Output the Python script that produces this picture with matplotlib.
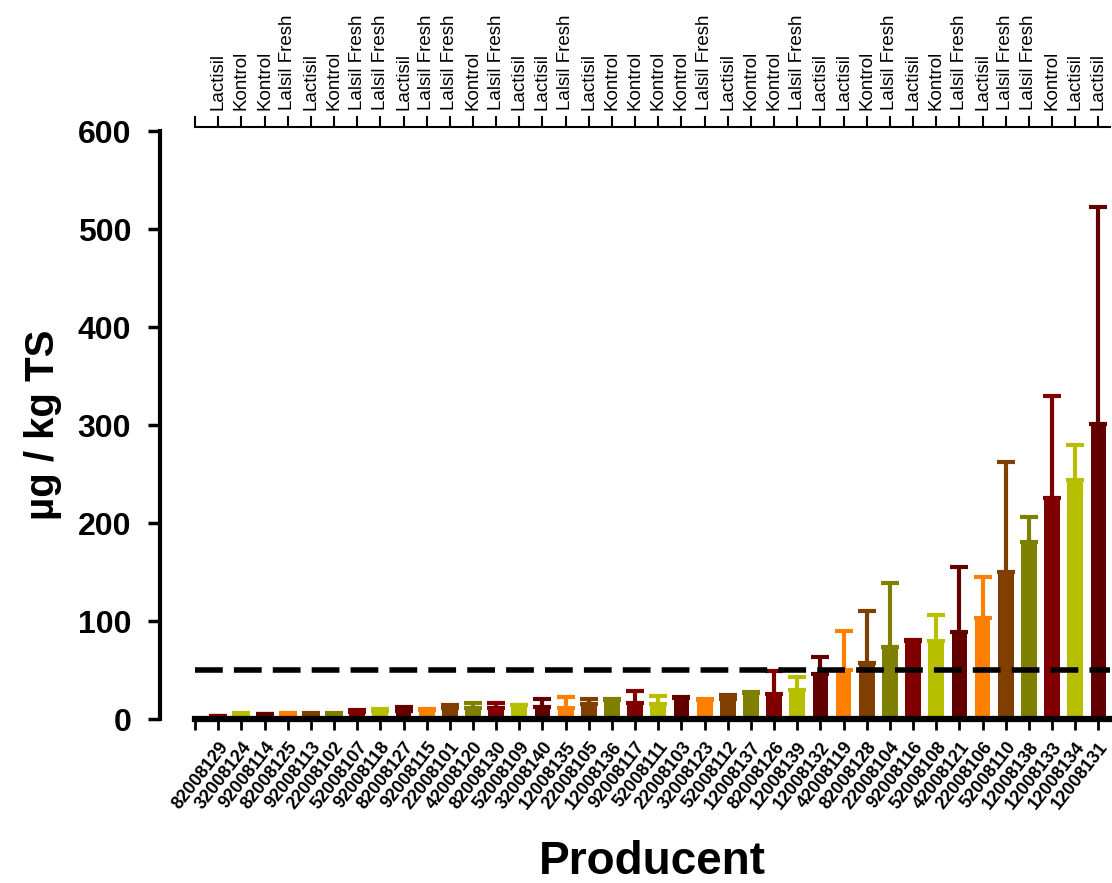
import matplotlib.pyplot as plt
import numpy as np

# producers sorted by mean concentration
producers = ['82008129', '32008124', '92008114', '82008125', '92008113', '22008102',
             '52008107', '92008118', '82008127', '92008115', '22008101', '42008120',
             '82008130', '52008109', '32008140', '12008135', '22008105', '12008136',
             '92008117', '52008111', '22008103', '32008123', '52008112', '12008137',
             '82008126', '12008139', '12008132', '42008119', '82008128', '22008104',
             '92008116', '52008108', '42008121', '22008106', '52008110', '12008138',
             '12008133', '12008134', '12008131']
treatments = ['Lactisil', 'Kontrol', 'Kontrol', 'Lalsil Fresh', 'Lactisil', 'Kontrol',
              'Lalsil Fresh', 'Lalsil Fresh', 'Lactisil', 'Lalsil Fresh', 'Lalsil Fresh',
              'Kontrol', 'Lalsil Fresh', 'Lactisil', 'Lactisil', 'Lalsil Fresh', 'Lactisil',
              'Kontrol', 'Kontrol', 'Kontrol', 'Kontrol', 'Lalsil Fresh', 'Lactisil',
              'Kontrol', 'Kontrol', 'Lalsil Fresh', 'Lactisil', 'Lactisil', 'Kontrol',
              'Lalsil Fresh', 'Lactisil', 'Kontrol', 'Lalsil Fresh', 'Lactisil',
              'Lalsil Fresh', 'Lalsil Fresh', 'Kontrol', 'Lactisil', 'Lactisil']
means = [3, 5, 5, 5, 5, 5, 7, 8, 8, 9, 11, 11, 11, 14, 12, 11, 15, 19, 16, 15,
         21, 19, 20, 27, 26, 30, 46, 50, 57, 73, 80, 80, 89, 103, 150, 181, 226, 244, 301]
err_up = [0.5, 1, 0.5, 1, 1, 1, 2, 2, 4, 1, 3, 5, 5, 0.5, 8, 11, 5, 1, 13, 8,
          1, 1, 5, 1, 23, 13, 17, 40, 53, 66, 1, 26, 66, 42, 112, 25, 104, 36, 221]
limit = 50

palette = ['#800000', '#b8bf00', '#620000', '#ff8000', '#803f00', '#808000']

plt.rcParams['font.family'] = ['Liberation Sans', 'DejaVu Sans']
plt.rcParams['font.weight'] = 'bold'

fig = plt.figure(figsize=(11.12, 8.83), dpi=100)
ax = fig.add_axes([0.1754, 0.1857, 0.8228, 0.6659])

x = np.arange(len(producers))
colors = [palette[i % len(palette)] for i in range(len(producers))]

ax.bar(x, means, 0.68, color=colors, zorder=2)
for xi, m, e, c in zip(x, means, err_up, colors):
    ax.errorbar(xi, m, yerr=[[0], [e]], color=c, elinewidth=3, capsize=6.5,
                capthick=3, zorder=1)

ax.axhline(limit, color='black', lw=4, ls=(0, (5, 2)), zorder=3)

ax.set_xlim(-1, 38.5)
ax.set_ylim(0, 600)
ax.set_yticks(np.arange(0, 601, 100))
ax.tick_params(axis='y', labelsize=23, width=2.5, length=9, pad=12)

ax.set_xticks(np.arange(-1, len(producers)))
ax.set_xticklabels([''] + producers)
ax.tick_params(axis='x', width=2, length=8, pad=6, labelsize=13, labelrotation=52)
for t in ax.get_xticklabels():
    t.set_ha('right')
    t.set_va('top')
    t.set_rotation_mode('anchor')

for s in ['top', 'right']:
    ax.spines[s].set_visible(False)
ax.spines['left'].set_position(('outward', 25))
ax.spines['left'].set_linewidth(3)
ax.spines['bottom'].set_linewidth(4.5)

ax.set_ylabel('µg / kg TS', fontsize=29, fontweight='bold')
ax.yaxis.set_label_coords(-0.145, 0.5)
ax.set_xlabel('Producent', fontsize=33, fontweight='bold')
ax.xaxis.set_label_coords(0.5, -0.205)

# treatment names on top axis
ax2 = ax.twiny()
ax2.set_xlim(ax.get_xlim())
ax2.set_xticks(np.arange(-1, len(producers)))
ax2.set_xticklabels([''] + treatments)
ax2.tick_params(axis='x', width=1.5, length=8, pad=4, labelsize=13.5, labelrotation=90)
for s in ['bottom', 'left', 'right']:
    ax2.spines[s].set_visible(False)
ax2.spines['top'].set_linewidth(1.5)
ax2.spines['top'].set_position(('outward', 3))

fig.canvas.draw()
for tick in ax2.xaxis.get_major_ticks():
    tick.label1.set_fontweight('normal')
    tick.label2.set_fontweight('normal')

fig.savefig('out.png', dpi=100)
